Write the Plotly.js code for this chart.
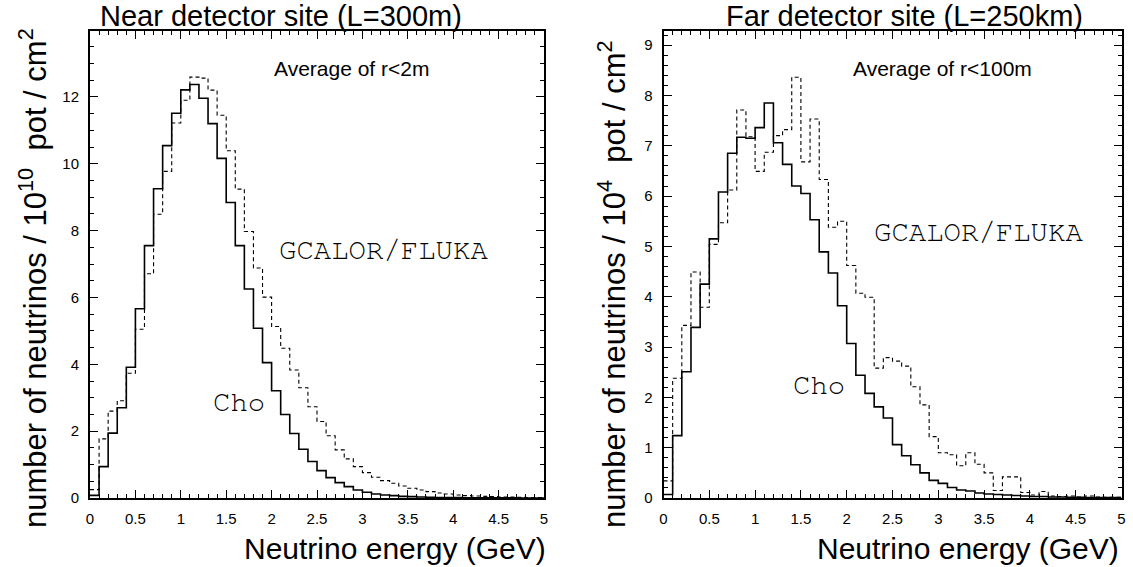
<!DOCTYPE html>
<html>
<head>
<meta charset="utf-8">
<script src="https://cdn.plot.ly/plotly-3.0.1.min.js"></script>
<style>html,body{margin:0;padding:0;background:#fff;}#chart{width:1133px;height:567px;}</style>
</head>
<body>
<div id="chart"></div>
<script>
// Bin edges (GeV), 0.1 GeV bins
const binEdges = [0,0.1,0.2,0.3,0.4,0.5,0.6,0.7,0.8,0.9,1.0,1.1,1.2,1.3,1.4,1.5,1.6,1.7,1.8,1.9,2.0,
  2.1,2.2,2.3,2.4,2.5,2.6,2.7,2.8,2.9,3.0,3.1,3.2,3.3,3.4,3.5,3.6,3.7,3.8,3.9,4.0,
  4.1,4.2,4.3,4.4,4.5,4.6,4.7,4.8,4.9,5.0];

// Near detector (L=300m), units 10^10 pot / cm^2
const nearCho = [0.08,0.94,1.94,2.70,3.91,5.66,7.55,9.25,10.54,11.51,12.21,12.37,11.96,11.20,10.16,8.84,7.55,6.25,5.08,4.05,
  3.21,2.50,1.93,1.46,1.09,0.82,0.61,0.46,0.34,0.24,0.17,0.12,0.09,0.07,0.05,0.04,0.03,0.02,0.015,0.01,
  0.01,0.008,0.006,0.005,0.004,0.003,0.003,0.002,0.002,0.001];
const nearGcalor = [0.25,1.77,2.60,2.91,3.73,5.05,6.71,8.49,9.77,11.22,11.90,12.59,12.56,12.20,11.45,10.39,9.24,7.97,6.88,6.01,
  5.13,4.48,3.83,3.30,2.73,2.29,1.86,1.44,1.17,0.94,0.76,0.62,0.52,0.44,0.36,0.29,0.24,0.19,0.15,0.12,
  0.09,0.07,0.06,0.05,0.04,0.03,0.025,0.02,0.015,0.01];

// Far detector (L=250km), units 10^4 pot / cm^2
const farCho = [0.07,1.24,2.51,3.39,4.25,5.15,6.08,6.85,7.17,7.15,7.36,7.85,7.06,6.63,6.20,6.05,5.53,4.89,4.47,3.82,
  3.07,2.44,2.08,1.81,1.59,1.06,0.84,0.66,0.50,0.35,0.29,0.21,0.16,0.14,0.10,0.08,0.07,0.06,0.05,0.04,
  0.03,0.03,0.02,0.02,0.015,0.015,0.01,0.01,0.01,0.008];
const farGcalor = [0.34,2.38,3.43,4.49,3.79,5.04,5.47,6.12,7.71,7.18,6.49,6.87,7.20,7.32,8.36,6.68,7.53,6.33,5.38,5.50,
  4.62,4.07,3.99,2.58,2.79,2.72,2.62,2.21,1.85,1.22,0.90,0.86,0.64,0.90,0.67,0.50,0.15,0.42,0.42,0.11,
  0.06,0.13,0.04,0.03,0.04,0.02,0.04,0.02,0.015,0.015];

// Text
const titles = ["Near detector site (L=300m)", "Far detector site (L=250km)"];
const yTitles = ["number of neutrinos / 10<sup>10</sup>  pot / cm<sup>2</sup>",
                 "number of neutrinos / 10<sup>4</sup>  pot / cm<sup>2</sup>"];
const xTitle = "Neutrino energy (GeV)";
const regionLabels = ["Average of r&lt;2m", "Average of r&lt;100m"];
const modelLabels = ["GCALOR/FLUKA", "Cho"];

const W = 1133, H = 567;
const px = x => x / W;
const py = y => 1 - y / H;

function stepY(vals) { return vals.concat([vals[vals.length - 1]]); }

const solidLine = {color: 'black', width: 1.6, shape: 'hv'};
const dashLine = {color: 'black', width: 1.1, shape: 'hv', dash: '4px,3px'};

const traces = [
  {x: binEdges, y: stepY(nearGcalor), xaxis: 'x', yaxis: 'y', mode: 'lines', line: dashLine, hoverinfo: 'skip'},
  {x: binEdges, y: stepY(nearCho), xaxis: 'x', yaxis: 'y', mode: 'lines', line: solidLine, hoverinfo: 'skip'},
  {x: binEdges, y: stepY(farGcalor), xaxis: 'x2', yaxis: 'y2', mode: 'lines', line: dashLine, hoverinfo: 'skip'},
  {x: binEdges, y: stepY(farCho), xaxis: 'x2', yaxis: 'y2', mode: 'lines', line: solidLine, hoverinfo: 'skip'}
];

const sans = 'Liberation Sans, Arial, Helvetica, sans-serif';
const mono = 'Nimbus Mono PS, Nimbus Mono L, FreeMono, Courier New, Liberation Mono, monospace';

function axisBase(extra) {
  return Object.assign({
    showline: true, linecolor: 'black', linewidth: 2, mirror: 'allticks',
    ticks: 'inside', ticklen: 8, tickwidth: 1, tickcolor: 'black',
    showgrid: false, zeroline: false, fixedrange: true,
    tickfont: {family: sans, size: 15, color: 'black'},
    ticklabelstandoff: 6
  }, extra);
}

const yDom = [py(498), py(31)];

const layout = {
  width: W, height: H,
  margin: {l: 0, r: 0, t: 0, b: 0},
  paper_bgcolor: 'white', plot_bgcolor: 'white',
  showlegend: false,
  xaxis: axisBase({domain: [px(90), px(544)], range: [0, 5], dtick: 0.5, tick0: 0, anchor: 'y',
    minor: {ticks: 'inside', ticklen: 4, dtick: 0.1, tickcolor: 'black', showgrid: false}}),
  yaxis: axisBase({domain: yDom, range: [0, 13.97], dtick: 2, tick0: 0, anchor: 'x',
    minor: {ticks: 'inside', ticklen: 4, dtick: 0.5, tickcolor: 'black', showgrid: false}}),
  xaxis2: axisBase({domain: [px(663.5), px(1121.5)], range: [0, 5], dtick: 0.5, tick0: 0, anchor: 'y2',
    minor: {ticks: 'inside', ticklen: 4, dtick: 0.1, tickcolor: 'black', showgrid: false}}),
  yaxis2: axisBase({domain: yDom, range: [0, 9.28], dtick: 1, tick0: 0, anchor: 'x2',
    minor: {ticks: 'inside', ticklen: 4, dtick: 0.2, tickcolor: 'black', showgrid: false}}),
  annotations: [
    // panel titles
    {text: titles[0], xref: 'paper', yref: 'paper', x: px(281), y: py(16), xanchor: 'center', yanchor: 'middle',
     showarrow: false, font: {family: sans, size: 29, color: 'black'}},
    {text: titles[1], xref: 'paper', yref: 'paper', x: px(905), y: py(16), xanchor: 'center', yanchor: 'middle',
     showarrow: false, font: {family: sans, size: 29, color: 'black'}},
    // y titles
    {text: yTitles[0], xref: 'paper', yref: 'paper', x: px(33), y: py(278), xanchor: 'center', yanchor: 'middle',
     textangle: -90, showarrow: false, font: {family: sans, size: 31, color: 'black'}},
    {text: yTitles[1], xref: 'paper', yref: 'paper', x: px(612), y: py(284), xanchor: 'center', yanchor: 'middle',
     textangle: -90, showarrow: false, font: {family: sans, size: 31, color: 'black'}},
    // x titles
    {text: xTitle, xref: 'paper', yref: 'paper', x: px(548), y: py(548), xanchor: 'right', yanchor: 'middle',
     showarrow: false, font: {family: sans, size: 30, color: 'black'}},
    {text: xTitle, xref: 'paper', yref: 'paper', x: px(1121), y: py(548), xanchor: 'right', yanchor: 'middle',
     showarrow: false, font: {family: sans, size: 30, color: 'black'}},
    // region labels
    {text: regionLabels[0], xref: 'paper', yref: 'paper', x: px(352), y: py(68), xanchor: 'center', yanchor: 'middle',
     showarrow: false, font: {family: sans, size: 21, color: 'black'}},
    {text: regionLabels[1], xref: 'paper', yref: 'paper', x: px(942), y: py(68), xanchor: 'center', yanchor: 'middle',
     showarrow: false, font: {family: sans, size: 21, color: 'black'}},
    // model labels
    {text: modelLabels[0], xref: 'paper', yref: 'paper', x: px(383), y: py(250), xanchor: 'center', yanchor: 'middle',
     showarrow: false, font: {family: mono, size: 29, color: 'black'}},
    {text: modelLabels[1], xref: 'paper', yref: 'paper', x: px(239), y: py(402), xanchor: 'center', yanchor: 'middle',
     showarrow: false, font: {family: mono, size: 29, color: 'black'}},
    {text: modelLabels[0], xref: 'paper', yref: 'paper', x: px(978), y: py(233), xanchor: 'center', yanchor: 'middle',
     showarrow: false, font: {family: mono, size: 29, color: 'black'}},
    {text: modelLabels[1], xref: 'paper', yref: 'paper', x: px(819), y: py(385), xanchor: 'center', yanchor: 'middle',
     showarrow: false, font: {family: mono, size: 29, color: 'black'}}
  ]
};

Plotly.newPlot('chart', traces, layout, {staticPlot: true, displayModeBar: false});
</script>
</body>
</html>
